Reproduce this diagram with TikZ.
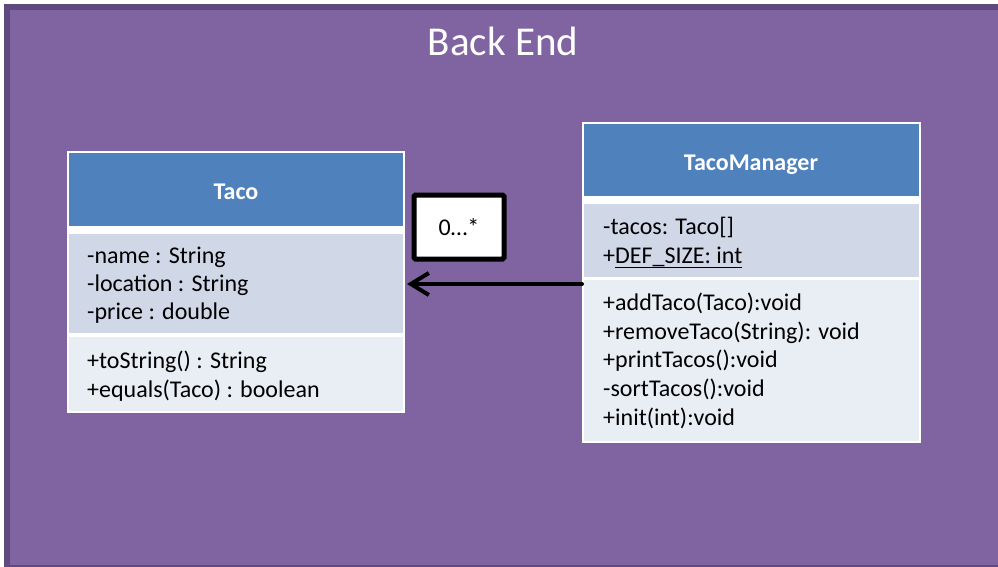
\documentclass[tikz,border=0pt]{standalone}
\usepackage{fontspec}
\setmainfont{Carlito}
\usetikzlibrary{arrows.meta}
\definecolor{bgpurple}{RGB}{128,100,162}
\definecolor{bgedge}{RGB}{94,74,126}
\definecolor{hdrblue}{RGB}{79,129,189}
\definecolor{attrfill}{RGB}{208,216,232}
\definecolor{methfill}{RGB}{233,237,244}
\tikzset{
  box/.style={draw=none, inner sep=0pt, outer sep=0pt, anchor=north west},
  hdrtext/.style={text=white, font=\fontsize{24}{28}\selectfont\bfseries, inner sep=0pt, anchor=base},
  member/.style={text=black, font=\fontsize{24}{28}\selectfont, inner sep=0pt, anchor=base west},
  assoc/.style={line width=4pt, line cap=round, line join=round, -{Straight Barb[length=18pt,width=22pt,line width=4pt]}}
}
\begin{document}
\begin{tikzpicture}[x=1pt,y=-1pt]
\useasboundingbox (0,0) rectangle (998,567);
\fill[white] (0,0) rectangle (998,567);
% background panel
\draw[bgedge, fill=bgpurple, line width=6pt] (7,7.5) rectangle (1002,568);
\node[text=white, font=\fontsize{41}{48}\selectfont, inner sep=0pt, anchor=base] (title) at (503,56) {Back End};

% Taco class
\node[box, fill=white, minimum width=338pt, minimum height=262pt] (taco) at (67,151) {};
\node[box, fill=hdrblue, minimum width=334pt, minimum height=73pt] (tacoH) at (69,153) {};
\node[box, fill=attrfill, minimum width=334pt, minimum height=99pt] (tacoA) at (69,234) {};
\node[box, fill=methfill, minimum width=334pt, minimum height=74pt] (tacoM) at (69,337) {};
\node[hdrtext] (tacoName) at (236,199) {Taco};
\node[member] (ta1) at (87,263) {-name : String};
\node[member] (ta2) at (87,291) {-location : String};
\node[member] (ta3) at (87,319) {-price : double};
\node[member] (tm1) at (87,368) {+toString() : String};
\node[member] (tm2) at (87,397) {+equals(Taco) : boolean};

% TacoManager class
\node[box, fill=white, minimum width=339pt, minimum height=321pt] (mgr) at (582,122) {};
\node[box, fill=hdrblue, minimum width=335pt, minimum height=72pt] (mgrH) at (584,124) {};
\node[box, fill=attrfill, minimum width=335pt, minimum height=73pt] (mgrA) at (584,204) {};
\node[box, fill=methfill, minimum width=335pt, minimum height=161pt] (mgrM) at (584,280) {};
\node[hdrtext] (mgrName) at (751,170) {TacoManager};
\node[member] (ma1) at (603,234) {-tacos: Taco[]};
\node[member] (ma2) at (603,263) {+\underline{DEF\_SIZE: int}};
\node[member] (mm1) at (603,310) {+addTaco(Taco):void};
\node[member] (mm2) at (603,339) {+removeTaco(String): void};
\node[member] (mm3) at (603,367) {+printTacos():void};
\node[member] (mm4) at (603,396) {-sortTacos():void};
\node[member] (mm5) at (603,425) {+init(int):void};

% multiplicity label
\node[draw=black, fill=white, line width=5pt, rounded corners=1.5pt, minimum width=90pt, minimum height=64pt, inner sep=0pt] (mult) at (459,227) {};
\node[member, anchor=base] (multText) at (459,235) {0…*};

% association
\draw[assoc] (mgr.west |- 0,284) -- ([xshift=2pt]taco.east |- 0,284);
\end{tikzpicture}
\end{document}
